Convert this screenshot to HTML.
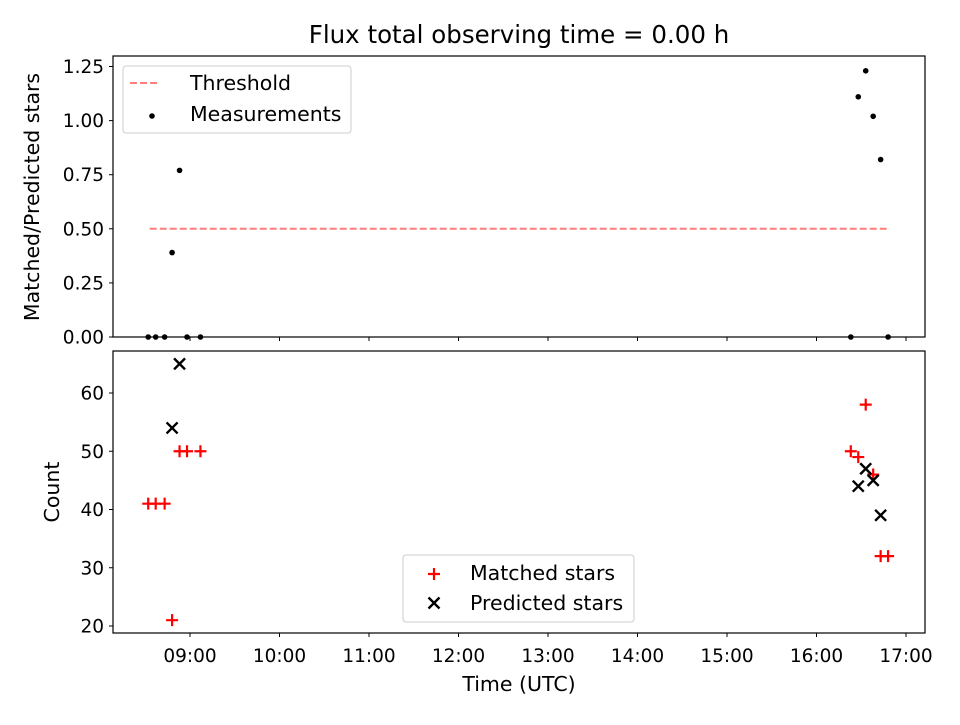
<!DOCTYPE html>
<html><head><meta charset="utf-8"><style>
body{margin:0;background:#fff;font-family:"Liberation Sans","DejaVu Sans",sans-serif}
svg text{font-family:"DejaVu Sans","Liberation Sans",sans-serif;font-size:18.5px;fill:#000}
</style></head><body>
<svg id="c" width="960" height="720"></svg>
<script>
const times=["08:32","08:37","08:43","08:48","08:53","08:58","09:07","16:23","16:28","16:33","16:38","16:43","16:48"];
const ratio=[0,0,0,0.39,0.77,0,0,0,1.11,1.23,1.02,0.82,0];
const matched=[41,41,41,21,50,50,50,50,49,58,46,32,32];
const predictedTimes=["08:48","08:53","16:28","16:33","16:38","16:43"];
const predicted=[54,65,44,47,45,39];
const xTicks=["09:00","10:00","11:00","12:00","13:00","14:00","15:00","16:00","17:00"];
const topTicks=[0,0.25,0.5,0.75,1.0,1.25];
const botTicks=[20,30,40,50,60];
const threshold=0.5;

const NS="http://www.w3.org/2000/svg";
const svg=document.getElementById('c');
function el(t,a,p){const e=document.createElementNS(NS,t);for(const k in a)e.setAttribute(k,a[k]);(p||svg).appendChild(e);return e;}
function hrs(s){const[p,q]=s.split(':');return +p+ +q/60;}
const L=113,R=925;
const X=h=>190+(h-9)*89.5;
const Yt=v=>337-v*216.4;
const Yb=v=>626-(v-20)*5.825;
function txt(x,y,s,anchor,name,extra){const t=el('text',Object.assign({x:x,y:y,'text-anchor':anchor||'middle'},extra||{}));t.textContent=s;return t;}

// title
txt(519,43,"Flux total observing time = 0.00 h","middle","chart-title",{style:"font-size:24.5px"});

// top panel
let g=el('g',{});


let ln=el('line',{x1:X(8.55),x2:X(16.82),y1:Yt(threshold),y2:Yt(threshold),stroke:'#ff7f7f','stroke-width':2,'stroke-dasharray':'7,3'},g);


ratio.forEach((v,i)=>{const c=el('circle',{cx:X(hrs(times[i])),cy:Yt(v),r:2.8,fill:'#000'},g);

});
topTicks.forEach(v=>{el('line',{x1:L-4,x2:L,y1:Yt(v),y2:Yt(v),stroke:'#000'},g);txt(L-9,Yt(v)+6.5,v.toFixed(2),'end','y-tick-label');});
xTicks.forEach(s=>{el('line',{x1:X(hrs(s)),x2:X(hrs(s)),y1:337,y2:341,stroke:'#000'},g);});
let f=el('rect',{x:L,y:56,width:R-L,height:281,fill:'none',stroke:'#000','stroke-width':1.2},g);


txt(39,197,"Matched/Predicted stars","middle","y-axis-title-top",{transform:"rotate(-90 39 197)",style:"font-size:20.5px"});
// legend top
let lg=el('g',{});


el('rect',{x:123,y:66,width:228,height:67,rx:3,fill:'#fff',stroke:'#ccc'},lg);
el('line',{x1:130,x2:158,y1:83,y2:83,stroke:'#ff7f7f','stroke-width':2,'stroke-dasharray':'7,3'},lg);
txt(190,90,"Threshold","start","legend-entry-threshold",{style:"font-size:20.5px"});
el('circle',{cx:152,cy:116,r:2.8,fill:'#000'},lg);
txt(190,121,"Measurements","start","legend-entry-measurements",{style:"font-size:20.5px"});

// bottom panel
let g2=el('g',{});


matched.forEach((v,i)=>{const x=X(hrs(times[i])),y=Yb(v);const p=el('path',{d:`M${x-6},${y}H${x+6}M${x},${y-6}V${y+6}`,stroke:'#f00','stroke-width':2.2},g2);

});
predicted.forEach((v,i)=>{const x=X(hrs(predictedTimes[i])),y=Yb(v);const p=el('path',{d:`M${x-5.5},${y-5.5}L${x+5.5},${y+5.5}M${x-5.5},${y+5.5}L${x+5.5},${y-5.5}`,stroke:'#000','stroke-width':2.4},g2);

});
botTicks.forEach(v=>{el('line',{x1:L-4,x2:L,y1:Yb(v),y2:Yb(v),stroke:'#000'},g2);txt(L-9,Yb(v)+6.5,String(v),'end','y-tick-label');});
xTicks.forEach(s=>{el('line',{x1:X(hrs(s)),x2:X(hrs(s)),y1:633,y2:637,stroke:'#000'},g2);txt(X(hrs(s)),662,s,'middle','x-tick-label');});
let f2=el('rect',{x:L,y:351,width:R-L,height:282,fill:'none',stroke:'#000','stroke-width':1.2},g2);


txt(59,492,"Count","middle","y-axis-title-bottom",{transform:"rotate(-90 59 492)",style:"font-size:20.5px"});
txt(519,691,"Time (UTC)","middle","x-axis-title",{style:"font-size:20.5px"});
let lg2=el('g',{});


el('rect',{x:403,y:555,width:231,height:67,rx:3,fill:'#fff',stroke:'#ccc'},lg2);
el('path',{d:'M428,574H440M434,568V580',stroke:'#f00','stroke-width':2.2},lg2);
txt(470,580,"Matched stars","start","legend-entry-matched",{style:"font-size:20.5px"});
el('path',{d:'M428.5,597.5L439.5,608.5M428.5,608.5L439.5,597.5',stroke:'#000','stroke-width':2.4},lg2);
txt(470,610,"Predicted stars","start","legend-entry-predicted",{style:"font-size:20.5px"});
</script>
</body></html>
